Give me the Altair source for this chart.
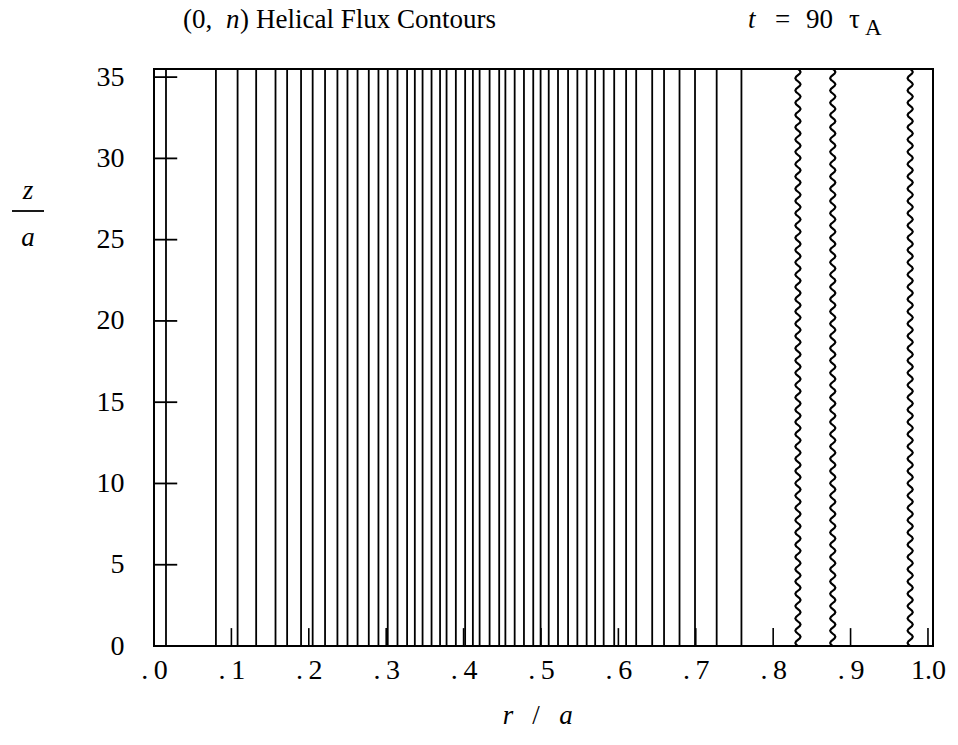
import altair as alt
import numpy as np
import pandas as pd

# Radial positions (r/a) of the straight (0,n) helical-flux contours
contour_r = [0.0155, 0.080, 0.108, 0.132, 0.157, 0.172, 0.190, 0.205, 0.221,
             0.237, 0.250, 0.263, 0.2775, 0.290, 0.302, 0.3146, 0.327, 0.337,
             0.347, 0.3586, 0.3696, 0.378, 0.390, 0.402, 0.412, 0.4207, 0.4336,
             0.446, 0.454, 0.466, 0.478, 0.490, 0.4995, 0.510, 0.522, 0.535,
             0.547, 0.559, 0.570, 0.581, 0.5946, 0.610, 0.623, 0.6437, 0.659,
             0.679, 0.699, 0.727, 0.759]
# Outer contours carrying a small axial ripple
rippled_r = [0.832, 0.877, 0.977]

x_tick_values = [0.0, 0.1, 0.2, 0.3, 0.4, 0.5, 0.6, 0.7, 0.8, 0.9, 1.0]
x_tick_labels = [".0", ".1", ".2", ".3", ".4", ".5", ".6", ".7", ".8", ".9", "1.0"]
z_tick_values = [0, 5, 10, 15, 20, 25, 30, 35]

R_MAX = 1.0065
Z_MAX = 35.5
W, H = 779, 577
PAD_L, PAD_T, PAD_R, PAD_B = 154, 69, 25, 99
FONT = "Liberation Serif"
FS = 28

x_scale = alt.Scale(domain=[0, R_MAX], nice=False, zero=False)
z_scale = alt.Scale(domain=[0, Z_MAX], nice=False, zero=False)

shown = [s if s.startswith("1") else ".\u2009" + s[1:] for s in x_tick_labels]
label_expr = "[" + ",".join("'" + s + "'" for s in shown) + "][round(datum.value * 10)]"

x_axis = alt.Axis(values=x_tick_values, labelExpr=label_expr, tickSize=0,
                  domain=False, grid=False, labelFont=FONT, labelFontSize=FS,
                  labelColor="black", labelPadding=10, labelFlush=False,
                  labelOverlap=False, title=None)
z_axis = alt.Axis(values=z_tick_values, tickSize=0, domain=False, grid=False,
                  labelFont=FONT, labelFontSize=FS, labelColor="black",
                  labelPadding=30, labelFlush=False, labelOverlap=False, title=None)

# Straight contours: vertical rules spanning the whole z range
contours = alt.Chart(pd.DataFrame({"r": contour_r})).mark_rule(
    color="black", strokeWidth=1.8
).encode(
    x=alt.X("r:Q", scale=x_scale, axis=x_axis),
)

# Rippled contour drawn as a stroked path symbol spanning the full height
cycles, steps, amp = 47, 8, 0.009
n = cycles * steps
pts = []
for i in range(n + 1):
    yy = -1 + 2 * i / n
    xx = amp * np.sin(2 * np.pi * cycles * i / n)
    pts.append(f"{xx:.4f},{yy:.4f}")
ripple_shape = "M" + "L".join(pts)

ripples = alt.Chart(
    pd.DataFrame({"r": rippled_r, "z": [Z_MAX / 2] * len(rippled_r)})
).mark_point(
    shape=ripple_shape, size=H * H, filled=False, stroke="black",
    strokeWidth=2.1, opacity=1
).encode(
    x=alt.X("r:Q", scale=x_scale, axis=x_axis),
    y=alt.Y("z:Q", scale=z_scale, axis=z_axis),
)

# Inward tick marks on the left and bottom frames
z_ticks = alt.Chart(pd.DataFrame({"z": z_tick_values})).mark_rule(
    color="black", strokeWidth=1.8
).encode(
    y=alt.Y("z:Q", scale=z_scale, axis=z_axis),
    x=alt.datum(0.0, scale=x_scale, axis=x_axis),
    x2=alt.datum(0.03),
)
r_ticks = alt.Chart(pd.DataFrame({"r": x_tick_values})).mark_rule(
    color="black", strokeWidth=1.6
).encode(
    x=alt.X("r:Q", scale=x_scale, axis=x_axis),
    y=alt.datum(0.0, scale=z_scale, axis=z_axis),
    y2=alt.datum(1.1),
)


def label(text, x_abs, y_abs, italic=False, size=27, align="left",
          baseline="alphabetic"):
    return alt.Chart(pd.DataFrame({"t": [text]})).mark_text(
        font=FONT, fontSize=size, fontStyle="italic" if italic else "normal",
        align=align, baseline=baseline, color="black"
    ).encode(
        text="t:N",
        x=alt.value(x_abs - PAD_L),
        y=alt.value(y_abs - PAD_T),
    )


title_parts = [
    label("(0,", 183, 28),
    label("n", 226, 28, italic=True),
    label(")", 240, 28),
    label("Helical Flux Contours", 256, 28),
    label("t", 748, 28, italic=True),
    label("=", 775, 28),
    label("90", 806, 28),
    label("\u03c4", 849, 28),
    label("A", 865, 35, size=23),
]

z_title = [
    label("z", 28, 199, italic=True, align="center"),
    label("a", 28, 246, italic=True, align="center"),
    alt.Chart(pd.DataFrame({"t": [0]})).mark_rule(color="black", strokeWidth=1.8).encode(
        x=alt.value(12 - PAD_L), x2=alt.value(44 - PAD_L), y=alt.value(211 - PAD_T)
    ),
]

r_title = [
    label("r", 508, 724, italic=True, align="center"),
    label("/", 536, 724, align="center"),
    label("a", 566, 724, italic=True, align="center"),
]

chart = alt.layer(
    contours, ripples, z_ticks, r_ticks, *title_parts, *z_title, *r_title
).properties(
    width=W, height=H,
    autosize=alt.AutoSizeParams(type="none"),
    padding={"left": PAD_L, "top": PAD_T, "right": PAD_R, "bottom": PAD_B},
).configure_view(stroke="black", strokeWidth=2)

chart.save("out.html", embed_options={"renderer": "svg", "actions": False})
